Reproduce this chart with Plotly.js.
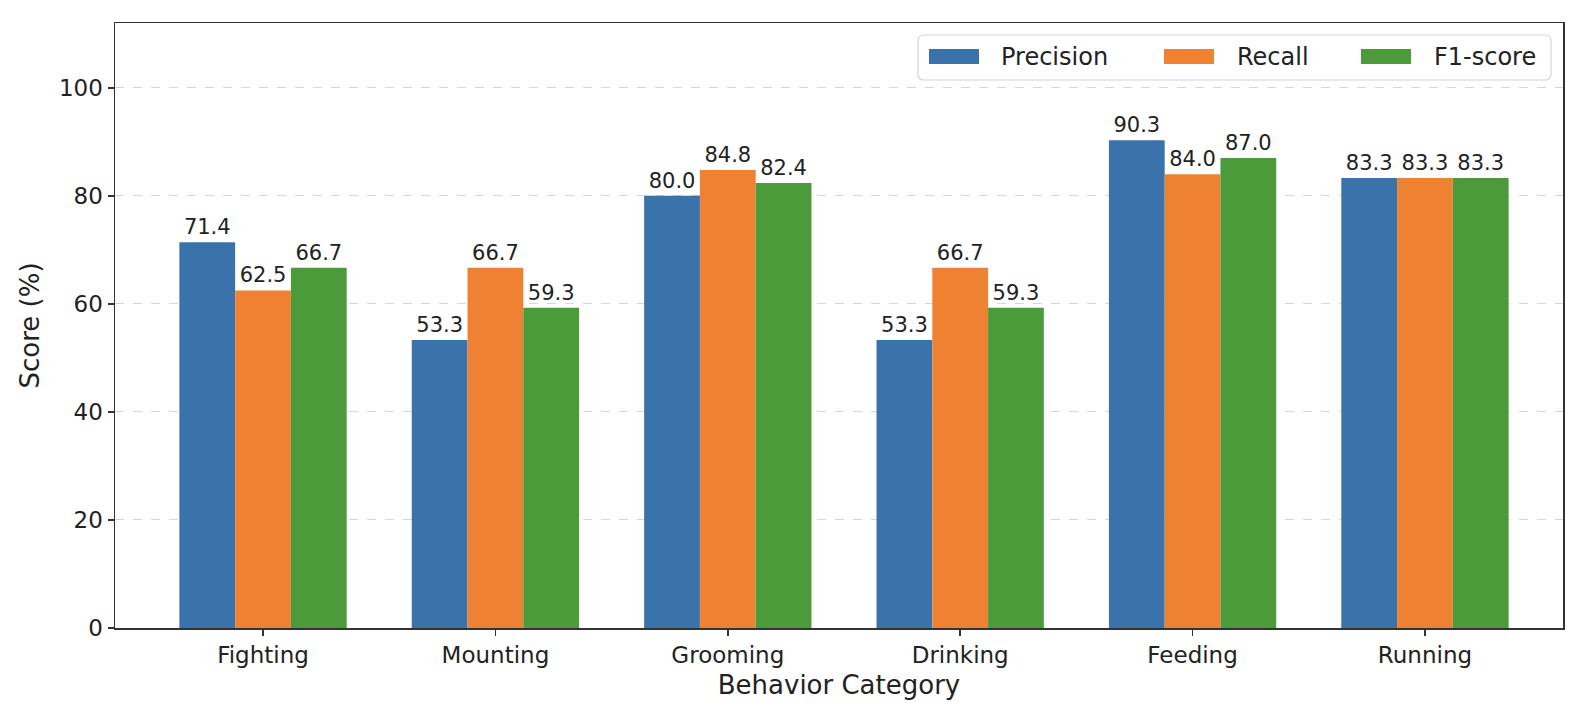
<!DOCTYPE html>
<html>
<head>
<meta charset="utf-8">
<script src="https://cdn.plot.ly/plotly-3.0.1.min.js"></script>
<style>
  html, body { margin: 0; padding: 0; background: #fff; }
  #graph { width: 1585px; height: 717px; }
</style>
</head>
<body>
<div id="graph"></div>
<script>
var categories = ['Fighting', 'Mounting', 'Grooming', 'Drinking', 'Feeding', 'Running'];
var seriesNames = ['Precision', 'Recall', 'F1-score'];
var precision = [71.4, 53.3, 80.0, 53.3, 90.3, 83.3];
var recall = [62.5, 66.7, 84.8, 66.7, 84.0, 83.3];
var f1 = [66.7, 59.3, 82.4, 59.3, 87.0, 83.3];
var yTicks = [0, 20, 40, 60, 80, 100];

var colors = ['#3a73ab', '#ee8232', '#4c9b3b'];
var font = 'DejaVu Sans, sans-serif';

// plot box in pixels, used to place the hand drawn legend
var W = 1585, H = 717;
var box = { l: 115, r: 1563, t: 23, b: 628 };
function px(x) { return (x - box.l) / (box.r - box.l); }
function py(y) { return (box.b - y) / (box.b - box.t); }

var values = [precision, recall, f1];
var traces = [];
for (var i = 0; i < values.length; i++) {
  traces.push({
    type: 'bar',
    name: seriesNames[i],
    x: categories,
    y: values[i],
    marker: { color: colors[i], line: { width: 0 } },
    text: values[i].map(function (v) { return v.toFixed(1); }),
    textposition: 'outside',
    constraintext: 'none',
    cliponaxis: false,
    textfont: { family: font, size: 21, color: '#222' },
    hoverinfo: 'x+y'
  });
}

// legend: rounded frame, wide swatches, labels
var lg = { x0: 918, x1: 1551, y0: 35, y1: 80, r: 6 };
function roundRect(b) {
  var rx = b.r / (box.r - box.l), ry = b.r / (box.b - box.t);
  var X0 = px(b.x0), X1 = px(b.x1), Y0 = py(b.y1), Y1 = py(b.y0);
  return 'M' + (X0 + rx) + ',' + Y0 +
    ' L' + (X1 - rx) + ',' + Y0 + ' Q' + X1 + ',' + Y0 + ' ' + X1 + ',' + (Y0 + ry) +
    ' L' + X1 + ',' + (Y1 - ry) + ' Q' + X1 + ',' + Y1 + ' ' + (X1 - rx) + ',' + Y1 +
    ' L' + (X0 + rx) + ',' + Y1 + ' Q' + X0 + ',' + Y1 + ' ' + X0 + ',' + (Y1 - ry) +
    ' L' + X0 + ',' + (Y0 + ry) + ' Q' + X0 + ',' + Y0 + ' ' + (X0 + rx) + ',' + Y0 + ' Z';
}
var swatchX = [929, 1164, 1361];
var textX = [999, 1235, 1432];
var shapes = [{
  type: 'path', xref: 'paper', yref: 'paper', path: roundRect(lg),
  fillcolor: 'rgba(255,255,255,0.9)', line: { color: '#d4d4d4', width: 1.2 }, layer: 'above'
}];
var annotations = [];
for (var k = 0; k < seriesNames.length; k++) {
  shapes.push({
    type: 'rect', xref: 'paper', yref: 'paper', layer: 'above',
    x0: px(swatchX[k]), x1: px(swatchX[k] + 50), y0: py(64), y1: py(49),
    fillcolor: colors[k], line: { width: 0 }
  });
  annotations.push({
    xref: 'paper', yref: 'paper', x: px(textX[k]), y: py(57),
    xanchor: 'left', yanchor: 'middle', showarrow: false,
    text: seriesNames[k], font: { family: font, size: 24, color: '#222' }
  });
}

var layout = {
  width: W,
  height: H,
  margin: { l: box.l, r: W - box.r, t: box.t, b: H - box.b },
  paper_bgcolor: '#fff',
  plot_bgcolor: '#fff',
  barmode: 'group',
  bargap: 0.28,
  bargroupgap: 0,
  showlegend: false,
  font: { family: font, color: '#222' },
  xaxis: {
    type: 'category',
    range: [-0.637, 5.594],
    showline: true, mirror: true, linecolor: '#333', linewidth: 1.5,
    ticks: 'outside', ticklen: 6, tickwidth: 1.5, tickcolor: '#333',
    showgrid: false, zeroline: false,
    tickfont: { family: font, size: 23, color: '#222' },
    title: { text: 'Behavior Category', font: { family: font, size: 26, color: '#222' }, standoff: 8 }
  },
  yaxis: {
    range: [0, 112],
    tickvals: yTicks,
    showline: true, mirror: true, linecolor: '#333', linewidth: 1.5,
    ticks: 'outside', ticklen: 6, tickwidth: 1.5, tickcolor: '#333',
    showgrid: true, gridcolor: '#d6d6d6', gridwidth: 1, griddash: 'dash',
    zeroline: false,
    tickfont: { family: font, size: 23, color: '#222' },
    title: { text: 'Score (%)', font: { family: font, size: 26, color: '#222' }, standoff: 12 }
  },
  shapes: shapes,
  annotations: annotations
};

Plotly.newPlot('graph', traces, layout, { displayModeBar: false, staticPlot: true });
</script>
</body>
</html>
